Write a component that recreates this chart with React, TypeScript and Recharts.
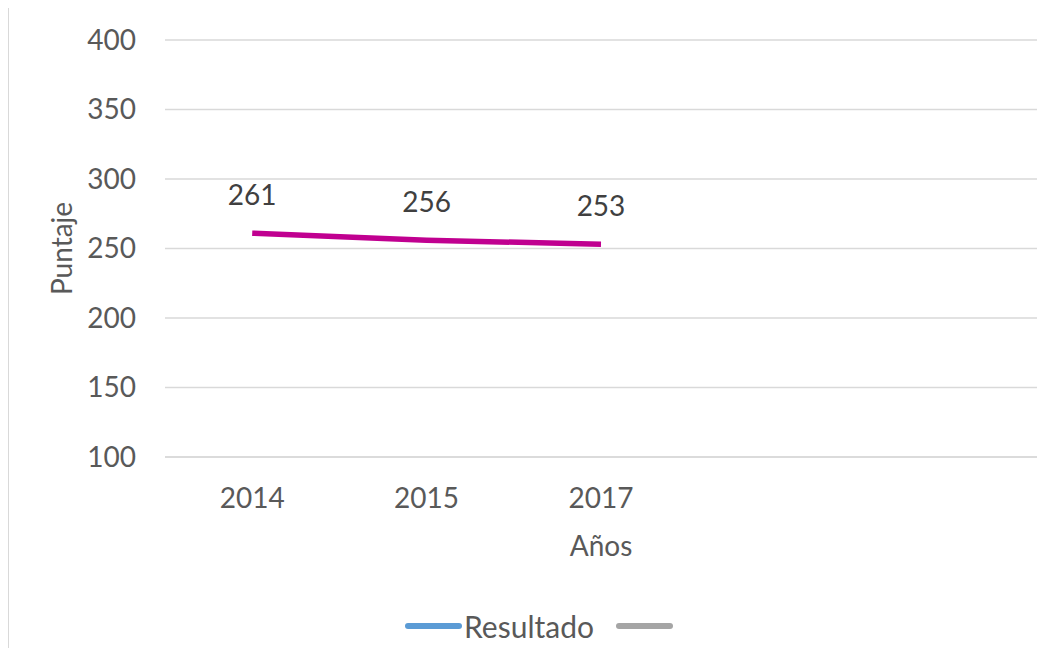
import { ComposedChart, Line, XAxis, YAxis, CartesianGrid, LabelList } from "recharts";

// the last two categories are empty slots in the original chart
const years = ["2014", "2015", "2017", " ", "  "];
const resultado = [261, 256, 253, null, null];
const serie2 = [null, null, null, null, null];
const yTicks = [100, 150, 200, 250, 300, 350, 400];

const data = years.map((y, i) => ({ anio: y, resultado: resultado[i], serie2: serie2[i] }));

const font = "Lato, 'Open Sans', sans-serif";

export default function App() {
  return (
    <div
      style={{
        position: "relative",
        width: 1038,
        height: 640,
        marginTop: -1,
        overflow: "hidden",
        borderLeft: "1px solid #d9d9d9",
        borderTop: "1px solid #d9d9d9",
        fontFamily: font,
      }}
    >
      <ComposedChart width={1046} height={653} data={data} margin={{ top: 32, right: 18, left: 0, bottom: 0 }}>
        <CartesianGrid vertical={false} stroke="#d9d9d9" strokeWidth={1.5} />
        <XAxis
          dataKey="anio"
          scale="band"
          height={204}
          axisLine={{ stroke: "#d9d9d9", strokeWidth: 1.5 }}
          tickLine={false}
          tickMargin={25}
          tick={{ fill: "#595959", fontSize: 28, fontFamily: font }}
          label={{ value: "Años", position: "center", dy: -13, fill: "#595959", fontSize: 28, fontFamily: font }}
        />
        <YAxis
          width={156}
          domain={[100, 400]}
          ticks={yTicks}
          axisLine={false}
          tickLine={false}
          tickMargin={23}
          tick={{ fill: "#595959", fontSize: 28, fontFamily: font }}
          label={{ value: "Puntaje", angle: -90, position: "center", dx: -25, fill: "#595959", fontSize: 28, fontFamily: font }}
        />
        <Line
          dataKey="resultado"
          name="Resultado"
          stroke="#C00090"
          strokeWidth={5.5}
          dot={false}
          isAnimationActive={false}
        >
          <LabelList dataKey="resultado" position="top" offset={28} fill="#404040" fontSize={28} fontFamily={font} />
        </Line>
        <Line dataKey="serie2" name="" stroke="#A5A5A5" strokeWidth={5.5} dot={false} isAnimationActive={false} />
      </ComposedChart>
      <div
        style={{
          position: "absolute",
          top: 600,
          left: 0,
          width: 1046,
          display: "flex",
          justifyContent: "center",
          alignItems: "center",
          fontSize: 30,
          color: "#595959",
          paddingLeft: 14,
          boxSizing: "border-box",
        }}
      >
        <span style={{ display: "inline-block", width: 57, height: 6, borderRadius: 3, background: "#5B9BD5" }} />
        <span style={{ marginLeft: 2, marginRight: 22 }}>Resultado</span>
        <span style={{ display: "inline-block", width: 57, height: 6, borderRadius: 3, background: "#A5A5A5" }} />
      </div>
    </div>
  );
}
